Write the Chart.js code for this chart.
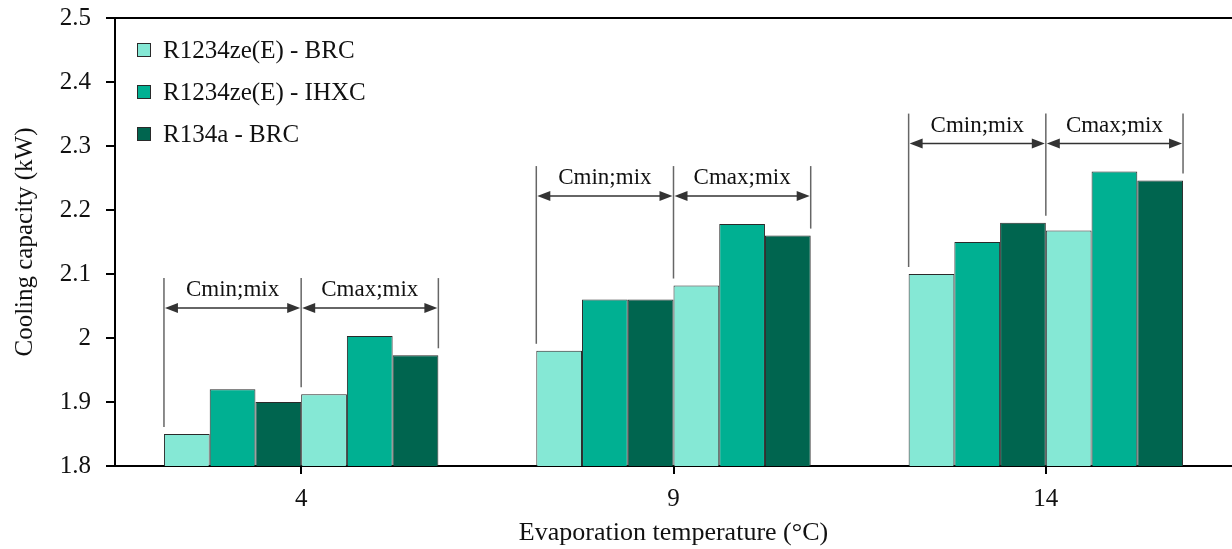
<!DOCTYPE html>
<html>
<head>
<meta charset="utf-8">
<script src="https://cdn.jsdelivr.net/npm/chart.js@4.4.1/dist/chart.umd.min.js"></script>
<style>
  html, body { margin: 0; padding: 0; background: #fff; }
  #wrap { width: 1232px; height: 549px; }
</style>
</head>
<body>
<div id="wrap"><canvas id="capacityChart"></canvas></div>
<script>
const temperatures = ["4", "9", "14"];
const seriesNames = ["R1234ze(E) - BRC", "R1234ze(E) - IHXC", "R134a - BRC"];
const seriesColors = ["#85e8d5", "#00b092", "#00654f"];
const groupLabels = ["Cmin;mix", "Cmax;mix"];

// Cmin;mix values
const minBRC = [1.85, 1.98, 2.10];
const minIHXC = [1.92, 2.06, 2.15];
const minR134a = [1.90, 2.06, 2.18];
// Cmax;mix values
const maxBRC = [1.912, 2.082, 2.168];
const maxIHXC = [2.003, 2.178, 2.26];
const maxR134a = [1.973, 2.16, 2.246];

const yTicks = [1.8, 1.9, 2, 2.1, 2.2, 2.3, 2.4, 2.5];

const FONT = "'Liberation Serif', 'Times New Roman', serif";

const groups = [[minBRC, minIHXC, minR134a], [maxBRC, maxIHXC, maxR134a]];
const datasets = [];
groups.forEach(function (g) {
  g.forEach(function (vals, si) {
    datasets.push({
      label: seriesNames[si],
      data: vals,
      backgroundColor: seriesColors[si],
      borderColor: "#2a2a2a",
      borderWidth: 1,
      borderSkipped: "bottom",
      barPercentage: 1,
      categoryPercentage: 0.737
    });
  });
});

function arrowHead(ctx, x, y, dir) {
  ctx.beginPath();
  ctx.moveTo(x, y);
  ctx.lineTo(x + dir * 13, y - 5);
  ctx.lineTo(x + dir * 13, y + 5);
  ctx.closePath();
  ctx.fill();
}

/* brackets with Cmin / Cmax labels, legend, top frame */
const bracketPlugin = {
  id: "brackets",
  afterDatasetsDraw(chart) {
    const ctx = chart.ctx;
    const metas = chart.data.datasets.map((d, i) => chart.getDatasetMeta(i));
    temperatures.forEach(function (t, i) {
      const bars = metas.map(m => m.data[i]);
      const half = bars[0].width / 2;
      const xs = [bars[0].x - half, bars[2].x + half, bars[5].x + half];
      const topY = Math.min.apply(null, bars.map(b => b.y));
      const lineTop = topY - 58;
      const arrowY = topY - 28;
      const ends = [bars[0].y, Math.min(bars[2].y, bars[3].y), bars[5].y];
      ctx.save();
      ctx.strokeStyle = "#666";
      ctx.lineWidth = 1.5;
      xs.forEach(function (x, k) {
        ctx.beginPath();
        ctx.moveTo(x, lineTop);
        ctx.lineTo(x, ends[k] - 7);
        ctx.stroke();
      });
      for (let k = 0; k < 2; k++) {
        const x1 = xs[k] + 1, x2 = xs[k + 1] - 1;
        ctx.strokeStyle = "#333";
        ctx.beginPath();
        ctx.moveTo(x1 + 6, arrowY);
        ctx.lineTo(x2 - 6, arrowY);
        ctx.stroke();
        ctx.fillStyle = "#333";
        arrowHead(ctx, x1, arrowY, 1);
        arrowHead(ctx, x2, arrowY, -1);
        ctx.fillStyle = "#111";
        ctx.font = "23px " + FONT;
        ctx.textAlign = "center";
        ctx.textBaseline = "alphabetic";
        ctx.fillText(groupLabels[k], (xs[k] + xs[k + 1]) / 2, arrowY - 12);
      }
      ctx.restore();
    });
  },
  afterDraw(chart) {
    const ctx = chart.ctx;
    const area = chart.chartArea;
    ctx.save();
    // top frame line
    ctx.strokeStyle = "#000";
    ctx.lineWidth = 2;
    ctx.beginPath();
    ctx.moveTo(area.left, area.top);
    ctx.lineTo(area.right, area.top);
    ctx.stroke();
    // legend
    ctx.font = "25px " + FONT;
    ctx.textAlign = "left";
    ctx.textBaseline = "middle";
    seriesNames.forEach(function (name, i) {
      const cy = area.top + 32 + i * 42;
      const bx = area.left + 22;
      ctx.fillStyle = seriesColors[i];
      ctx.fillRect(bx, cy - 7, 14, 14);
      ctx.strokeStyle = "#2a2a2a";
      ctx.lineWidth = 1;
      ctx.strokeRect(bx + 0.5, cy - 6.5, 13, 13);
      ctx.fillStyle = "#111";
      ctx.fillText(name, bx + 26, cy + 1);
    });
    ctx.restore();
  }
};

new Chart(document.getElementById("capacityChart"), {
  type: "bar",
  data: {
    labels: temperatures,
    datasets: datasets
  },
  plugins: [bracketPlugin],
  options: {
    responsive: true,
    maintainAspectRatio: false,
    animation: false,
    layout: { padding: { top: 18, right: 0, left: 0, bottom: 0 } },
    plugins: {
      legend: { display: false },
      tooltip: { enabled: false }
    },
    scales: {
      x: {
        grid: { drawOnChartArea: false, drawTicks: true, tickLength: 8, offset: false, color: "#000", lineWidth: 2 },
        border: { display: true, color: "#000", width: 2 },
        ticks: { color: "#111", padding: 10, font: { family: FONT, size: 25 } },
        title: {
          display: true,
          text: "Evaporation temperature (°C)",
          color: "#111",
          font: { family: FONT, size: 26 },
          padding: { top: 0, bottom: 0 }
        },
        afterFit: function (s) { s.height = 83; s.paddingLeft = 0; s.paddingRight = 0; }
      },
      y: {
        min: 1.8,
        max: 2.5,
        afterBuildTicks: function (s) { s.ticks = yTicks.map(v => ({ value: v })); },
        grid: { drawOnChartArea: false, drawTicks: true, tickLength: 9, color: "#000", lineWidth: 2 },
        border: { display: true, color: "#000", width: 2 },
        ticks: {
          color: "#111",
          padding: 15,
          font: { family: FONT, size: 25 },
          callback: function (v) { return String(v); }
        },
        title: {
          display: true,
          text: "Cooling capacity (kW)",
          color: "#111",
          font: { family: FONT, size: 25 },
          padding: { top: 10, bottom: 0 }
        },
        afterFit: function (s) { s.width = 115; s.paddingTop = 0; s.paddingBottom = 0; }
      }
    }
  }
});
</script>
</body>
</html>
